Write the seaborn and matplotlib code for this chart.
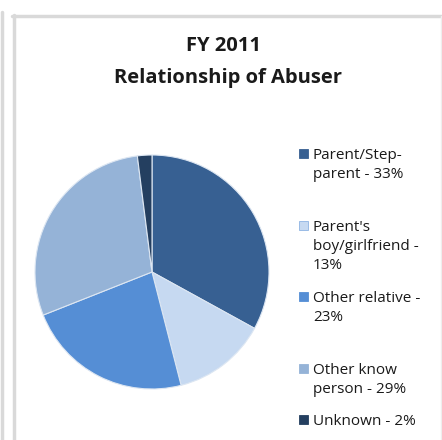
import matplotlib.pyplot as plt
import matplotlib.patches as mpatches
from matplotlib.lines import Line2D
import seaborn as sns

# data
categories = ["Parent/Step-\nparent - 33%", "Parent's\nboy/girlfriend -\n13%", "Other relative -\n23%",
              "Other know\nperson - 29%", "Unknown - 2%"]
values = [33, 13, 23, 29, 2]
colors = ['#376092', '#c6d9f1', '#558ed5', '#95b3d7', '#243f60']

sns.set_theme(style='white')
plt.rcParams['font.family'] = ['Open Sans', 'DejaVu Sans']

W, H = 442, 440
fig = plt.figure(figsize=(W / 100, H / 100), dpi=100)
fig.patch.set_facecolor('white')

# frame lines (grey borders of the chart area)
border = '#d9d9d9'
fig.add_artist(Line2D([1.5 / W, 1.5 / W], [0, 1 - 12 / H], color=border, lw=2.5))
fig.add_artist(Line2D([13.5 / W, 13.5 / W], [0, 1 - 15 / H], color=border, lw=2.5))
fig.add_artist(Line2D([12 / W, 1], [1 - 16 / H, 1 - 16 / H], color=border, lw=2.5))
fig.add_artist(Line2D([441 / W, 441 / W], [0, 1 - 16 / H], color='#eeeeee', lw=1))

# pie
cx, cy, r = 152, 272, 117
ax = fig.add_axes([(cx - r) / W, (H - cy - r) / H, 2 * r / W, 2 * r / H])
ax.pie(values, colors=colors, startangle=90, counterclock=False,
       wedgeprops=dict(edgecolor='#dce6f2', linewidth=0.8))
ax.set_aspect('auto')
ax.set_xlim(-1, 1)
ax.set_ylim(-1, 1)
ax.axis('off')

# title
fig.text(224 / W, 1 - 46 / H, 'FY 2011', ha='center', va='center',
         fontsize=14.5, fontweight='bold', color='#1a1a1a')
fig.text(228 / W, 1 - 78 / H, 'Relationship of Abuser', ha='center', va='center',
         fontsize=14.5, fontweight='bold', color='#1a1a1a')

# legend
item_y = [153, 225, 296, 368, 419]
for lab, col, y in zip(categories, colors, item_y):
    fig.patches.append(mpatches.Rectangle((299 / W, 1 - (y + 5) / H), 9 / W, 9 / H,
                                          transform=fig.transFigure, facecolor=col,
                                          edgecolor='#8eb4e3' if col == '#c6d9f1' else col, lw=0.6))
    fig.text(313 / W, 1 - (y - 5) / H, lab, ha='left', va='top', fontsize=11,
             color='#1a1a1a', linespacing=1.35)

fig.savefig('out.png', dpi=100)
